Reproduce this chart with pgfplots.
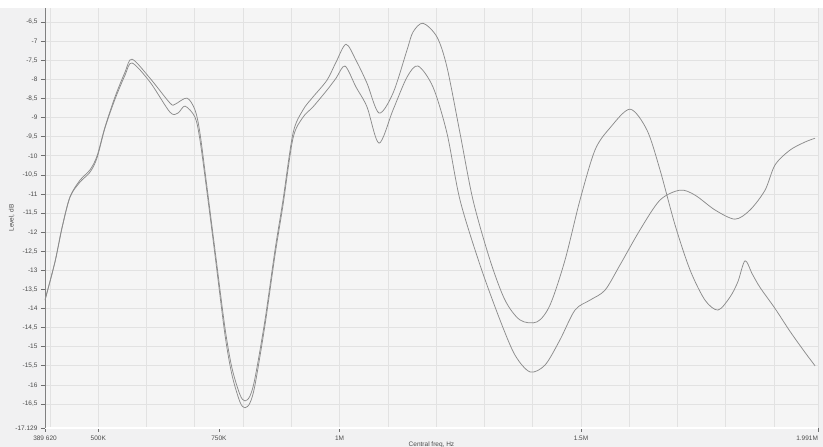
\documentclass[border=0pt]{standalone}
\usepackage{fontspec}
\setmainfont{Liberation Sans}
\usepackage{pgfplots}
\pgfplotsset{compat=1.18}
\definecolor{pagebg}{HTML}{F1F1F2}
\definecolor{plotbg}{HTML}{F5F5F5}
\definecolor{gridc}{HTML}{E2E2E2}
\definecolor{curve}{HTML}{8C8C8C}
\definecolor{txt}{HTML}{4A4A4A}
\begin{document}
\begin{tikzpicture}
\fill[pagebg] (-45pt,-19pt) rectangle (778pt,428pt);
\fill[white] (-45pt,420pt) rectangle (778pt,428pt);
\begin{axis}[
  at={(0pt,0pt)}, anchor=south west,
  scale only axis, width=773pt, height=420pt,
  xmin=389.62, xmax=1991, ymin=-17.129, ymax=-6.13,
  axis background/.style={fill=plotbg},
  axis lines*=left,
  y axis line style={draw=txt!70, line width=0.8pt},
  x axis line style={draw=white, line width=1.2pt},
  xtick={389.62,500,750,1000,1500,1991},
  xticklabels={389 620,500K,750K,1M,1.5M,\makebox[0pt][r]{1.991M}},
  minor xtick={400,500,...,1900},
  xminorgrids, xmajorgrids=false,
  minor tick length=0pt,
  ytick={-6.5,-7,-7.5,-8,-8.5,-9,-9.5,-10,-10.5,-11,-11.5,-12,-12.5,-13,-13.5,-14,-14.5,-15,-15.5,-16,-16.5,-17.129},
  yticklabels={-6{,}5,-7,-7{,}5,-8,-8{,}5,-9,-9{,}5,-10,-10{,}5,-11,-11{,}5,-12,-12{,}5,-13,-13{,}5,-14,-14{,}5,-15,-15{,}5,-16,-16{,}5,-17.129},
  ymajorgrids,
  grid style={draw=gridc, line width=0.7pt},
  minor grid style={draw=gridc, line width=0.7pt},
  major grid style={draw=gridc, line width=0.7pt},
  tick align=outside, major tick length=4pt,
  tick style={draw=txt!80, line width=0.6pt},
  ticklabel style={font=\fontsize{6.5}{7}\selectfont, text=txt},
  xlabel={Central freq, Hz},
  ylabel={Level, dB},
  label style={font=\fontsize{6.5}{7}\selectfont, text=txt},
  xlabel style={yshift=5pt},
  ylabel style={yshift=-6pt},
]
\addplot[curve, line width=0.75pt, smooth, tension=0.5] coordinates {
(389.6,-13.78) (410.3,-12.78) (424.8,-11.89) (441.4,-11.08) (462.1,-10.64)
(482.8,-10.37) (497.3,-10.01) (513.9,-9.25) (534.6,-8.46) (555.4,-7.81)
(569.9,-7.47) (607.2,-7.97) (648.6,-8.62) (659.0,-8.65) (683.8,-8.49)
(700.4,-8.80) (710.7,-9.41) (725.2,-10.82) (741.8,-12.47) (762.5,-14.51)
(777.0,-15.56) (793.6,-16.26) (803.9,-16.42) (814.3,-16.29) (824.7,-15.82)
(845.4,-14.30) (866.1,-12.47) (882.7,-11.16) (903.4,-9.41) (924.1,-8.80)
(944.8,-8.46) (973.8,-8.02) (992.5,-7.55) (1013.2,-7.08) (1033.9,-7.50)
(1056.7,-8.10) (1081.6,-8.88) (1110.6,-8.36) (1139.6,-7.23) (1152.0,-6.76)
(1172.7,-6.53) (1201.7,-6.89) (1222.4,-7.68) (1249.4,-9.41) (1276.3,-11.16)
(1311.5,-12.73) (1342.6,-13.78) (1373.7,-14.30) (1408.9,-14.35) (1435.8,-13.91)
(1466.9,-12.73) (1497.9,-11.16) (1529.0,-9.85) (1560.1,-9.27) (1601.6,-8.78)
(1636.8,-9.33) (1663.7,-10.37) (1694.8,-11.81) (1725.9,-12.99) (1756.9,-13.78)
(1783.9,-14.04) (1808.7,-13.70) (1825.0,-13.30) (1839.8,-12.75) (1855.0,-13.10)
(1871.0,-13.45) (1902.0,-14.00) (1933.1,-14.60) (1964.1,-15.15) (1984.9,-15.50)
};
\addplot[curve, line width=0.75pt, smooth, tension=0.5] coordinates {
(389.6,-13.78) (410.3,-12.78) (424.8,-11.89) (441.4,-11.08) (462.1,-10.69)
(482.8,-10.43) (497.3,-10.06) (513.9,-9.27) (534.6,-8.52) (555.4,-7.89)
(569.9,-7.57) (607.2,-8.07) (648.6,-8.86) (665.2,-8.88) (679.7,-8.70)
(700.4,-8.99) (710.7,-9.59) (725.2,-10.95) (741.8,-12.60) (762.5,-14.69)
(777.0,-15.74) (793.6,-16.45) (803.9,-16.60) (814.3,-16.47) (824.7,-16.00)
(845.4,-14.43) (866.1,-12.60) (882.7,-11.29) (903.4,-9.54) (924.1,-8.99)
(944.8,-8.72) (973.8,-8.28) (992.5,-7.97) (1011.1,-7.65) (1033.9,-8.20)
(1056.7,-8.72) (1081.6,-9.67) (1110.6,-8.80) (1139.6,-7.94) (1162.4,-7.65)
(1193.4,-8.20) (1222.4,-9.41) (1249.4,-11.16) (1290.8,-12.86) (1332.2,-14.30)
(1363.3,-15.22) (1394.4,-15.66) (1425.5,-15.48) (1456.5,-14.82) (1487.6,-14.04)
(1518.7,-13.78) (1549.7,-13.52) (1580.8,-12.86) (1622.3,-11.94) (1663.7,-11.16)
(1705.2,-10.90) (1736.2,-11.03) (1777.7,-11.42) (1819.1,-11.66) (1850.2,-11.42)
(1881.3,-10.90) (1902.0,-10.24) (1933.1,-9.85) (1964.1,-9.64) (1984.9,-9.54)
};
\end{axis}
\draw[draw=gridc!80!black!40, line width=0.8pt] (773pt,0pt) -- (773pt,420pt);
\pgfresetboundingbox
\path (-45pt,-19pt) rectangle (778pt,428pt);
\end{tikzpicture}
\end{document}
